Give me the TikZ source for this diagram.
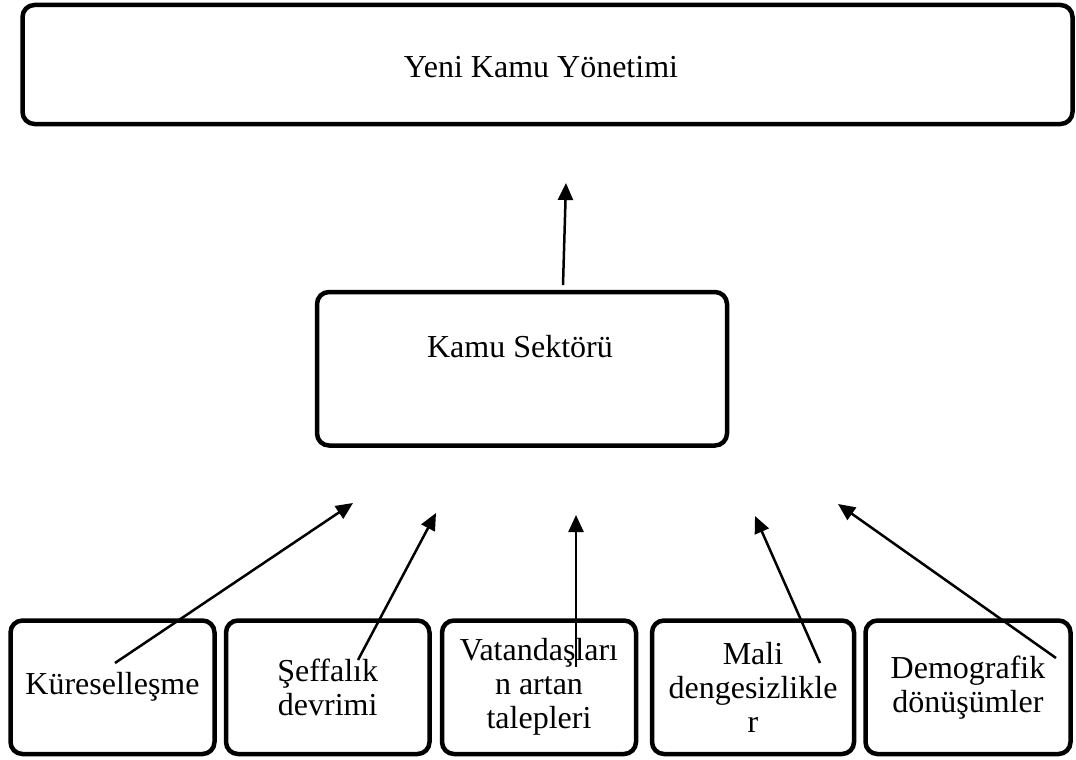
\documentclass[tikz,border=0pt]{standalone}
\usepackage{fontspec}
\setmainfont{Liberation Serif}
\usetikzlibrary{arrows.meta}
\begin{document}
\begin{tikzpicture}[x=1pt,y=-1pt,
  box/.style={draw=black, line width=4.5pt, rounded corners=12pt, inner sep=0pt,
    align=center, font=\fontsize{32}{34}\selectfont},
  cause/.style={box, minimum height=133.5pt},
  label/.style={inner sep=0pt, font=\fontsize{32}{34}\selectfont},
  link/.style={line width=2.5pt, -{Triangle[length=17pt,width=15pt]}}
]
\useasboundingbox (0,0) rectangle (1076,760);

% top level
\node[box, minimum width=1050pt, minimum height=119pt] (ykyb) at (547.5,64.5) {};
\node[label] (ykyt) at (541,67.5) {Yeni Kamu Yönetimi};

% public sector
\node[box, minimum width=410pt, minimum height=153.5pt] (ksb) at (522,368.75) {};
\node[label, anchor=base] (kst) at (520,357) {Kamu Sektörü};

% driving forces
\node[cause, minimum width=204pt]   (c1) at (112.5,687.25) {Küreselleşme};
\node[cause, minimum width=203.5pt] (c2) at (327.75,687.25) {Şeffalık\\devrimi};
\node[cause, minimum width=194pt]   (c3) at (539,687.25) {Vatandaşları\\n artan\\talepleri};
\node[cause, minimum width=202pt]   (c4) at (753,687.25) {Mali\\dengesizlikle\\r};
\node[cause, minimum width=205pt]   (c5) at (968,687.25) {Demografik\\dönüşümler};

% arrow end points
\coordinate (t0s) at (563,285);  \coordinate (t0e) at (566,183);
\coordinate (t1s) at (115,663);  \coordinate (t1e) at (353,503);
\coordinate (t2s) at (358,660);  \coordinate (t2e) at (436,513);
\coordinate (t3s) at (576,667);  \coordinate (t3e) at (576,515);
\coordinate (t4s) at (820,663);  \coordinate (t4e) at (755,516);
\coordinate (t5s) at (1056,658); \coordinate (t5e) at (838,504);

\draw[link] (t0s) -- (t0e);
\draw[link] (t1s) -- (t1e);
\draw[link] (t2s) -- (t2e);
\draw[link] (t3s) -- (t3e);
\draw[link] (t4s) -- (t4e);
\draw[link] (t5s) -- (t5e);
\end{tikzpicture}
\end{document}
